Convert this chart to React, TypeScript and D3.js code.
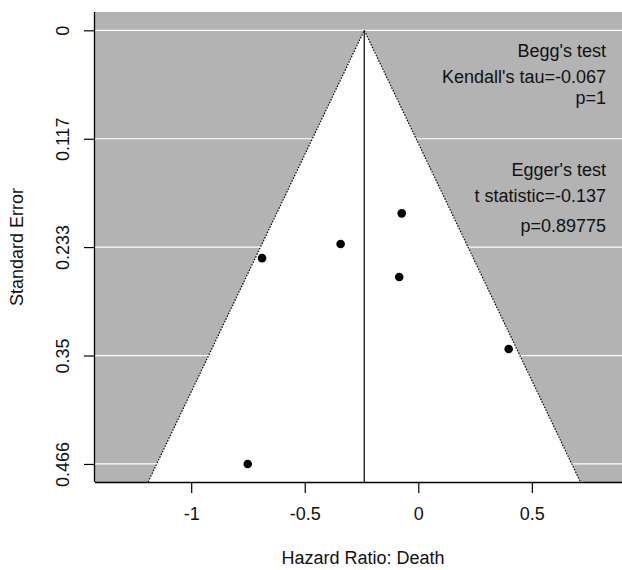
import React, { useEffect, useRef } from "react";
import * as d3 from "d3";

// study estimates (log hazard ratio) and their standard errors
const effects = [-0.688, -0.342, -0.073, -0.084, 0.398, -0.751];
const stdErrors = [0.245, 0.2298, 0.1968, 0.2653, 0.3427, 0.4663];
const pooled = -0.238;

const xTicks = [-1, -0.5, 0, 0.5];
const yTicks = [0, 0.1166, 0.2331, 0.3497, 0.4663];
const yTickLabels = ["0", "0.117", "0.233", "0.35", "0.466"];

const beggLines = ["Begg's test", "Kendall's tau=-0.067", "p=1"];
const eggerLines = ["Egger's test", "t statistic=-0.137", "p=0.89775"];

const W = 622;
const H = 570;
const FONT = "'Liberation Sans', Arial, sans-serif";

export default function App() {
  const ref = useRef<SVGSVGElement>(null);

  useEffect(() => {
    const svg = d3.select(ref.current);
    svg.selectAll("*").remove();

    const left = 95, right = 622, top = 12, bottom = 482;

    const x = d3.scaleLinear().domain([-1.4236, 0.897]).range([left, right]);
    const y = d3.scaleLinear().domain([-0.0197, 0.4857]).range([top, bottom]);

    // gray background
    svg.append("rect")
      .attr("x", left).attr("y", top)
      .attr("width", right - left).attr("height", bottom - top)
      .attr("fill", "#b3b3b3");

    // grid lines
    svg.append("g")
      .selectAll("line")
      .data(yTicks).enter()
      .append("line")
      .attr("x1", left).attr("x2", right)
      .attr("y1", d => y(d)).attr("y2", d => y(d))
      .attr("stroke", "#fff")
      .attr("stroke-width", 1.2);

    // funnel
    const seMax = y.domain()[1];
    const funnel: [number, number][] = [
      [pooled - 1.96 * seMax, seMax],
      [pooled, 0],
      [pooled + 1.96 * seMax, seMax],
    ];
    const funnelLine = d3.line<[number, number]>().x(d => x(d[0])).y(d => y(d[1]));
    svg.append("path")
      .attr("d", funnelLine(funnel) + "Z")
      .attr("fill", "#fff");

    svg.append("path")
      .attr("d", funnelLine(funnel))
      .attr("fill", "none")
      .attr("stroke", "#000")
      .attr("stroke-width", 1.2)
      .attr("stroke-dasharray", "1.5,1.5");

    // pooled estimate line
    svg.append("line")
      .attr("x1", x(pooled)).attr("x2", x(pooled))
      .attr("y1", y(0)).attr("y2", bottom)
      .attr("stroke", "#000")
      .attr("stroke-width", 1.2);

    // points
    svg.append("g")
      .selectAll("circle")
      .data(effects).enter()
      .append("circle")
      .attr("cx", d => x(d))
      .attr("cy", (d, i) => y(stdErrors[i]))
      .attr("r", 4.3)
      .attr("fill", "#000");

    // axes
    const xAxis = svg.append("g")
      .attr("transform", `translate(0, ${bottom})`)
      .call(d3.axisBottom(x).tickValues(xTicks).tickSize(11).tickPadding(14)
        .tickFormat(d => String(d)));
    xAxis.select(".domain").attr("d", `M${left},0.5H${right}`).attr("stroke-width", 1.3);
    xAxis.selectAll("line").attr("stroke-width", 1.2);
    xAxis.selectAll("text").attr("font-size", 18).attr("font-family", FONT).attr("fill", "#111");

    const yAxis = svg.append("g")
      .attr("transform", `translate(${left}, 0)`)
      .call(d3.axisLeft(y).tickValues(yTicks).tickSize(11)
        .tickFormat((d, i) => yTickLabels[i]));
    yAxis.select(".domain").attr("d", `M-0.5,${top}V${bottom}`).attr("stroke-width", 1.3);
    yAxis.selectAll("line").attr("stroke-width", 1.2);
    yAxis.selectAll("text")
      .attr("font-size", 18)
      .attr("font-family", FONT)
      .attr("fill", "#111")
      .attr("x", null).attr("y", null).attr("dy", null)
      .attr("text-anchor", "middle")
      .attr("transform", "translate(-26, 0) rotate(-90)");

    // axis titles
    svg.append("text")
      .attr("x", 363).attr("y", 564)
      .attr("text-anchor", "middle")
      .attr("font-size", 18).attr("font-family", FONT).attr("fill", "#111")
      .text("Hazard Ratio: Death");

    svg.append("text")
      .attr("transform", `translate(23, ${(top + bottom) / 2}) rotate(-90)`)
      .attr("text-anchor", "middle")
      .attr("font-size", 18).attr("font-family", FONT).attr("fill", "#111")
      .text("Standard Error");

    // test annotations
    const beggY = [57, 83, 104];
    const eggerY = [176, 202, 232];
    svg.append("g")
      .selectAll("text")
      .data(beggLines.concat(eggerLines)).enter()
      .append("text")
      .attr("x", 606)
      .attr("y", (d, i) => (i < 3 ? beggY[i] : eggerY[i - 3]))
      .attr("text-anchor", "end")
      .attr("font-size", 18).attr("font-family", FONT).attr("fill", "#111")
      .text(d => d);
  }, []);

  return (
    <svg ref={ref} width={W} height={H}
      style={{ position: "absolute", left: 0, top: 0, background: "#fff" }} />
  );
}
